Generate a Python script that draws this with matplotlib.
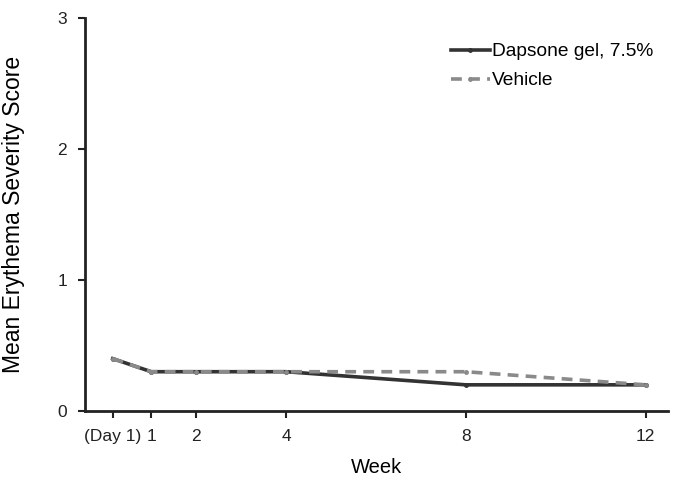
import matplotlib
matplotlib.use('Agg')
import matplotlib.pyplot as plt

plt.rcParams['font.family'] = ['Liberation Sans', 'DejaVu Sans']

weeks = [1 / 7, 1, 2, 4, 8, 12]
tick_labels = ['(Day 1)', '1', '2', '4', '8', '12']
dapsone = [0.4, 0.3, 0.3, 0.3, 0.2, 0.2]
vehicle = [0.4, 0.3, 0.3, 0.3, 0.3, 0.2]

fig = plt.figure(figsize=(6.98, 4.83), dpi=100)
ax = fig.add_axes([0.122, 0.149, 0.835, 0.814])

ax.plot(weeks, dapsone, color='#333333', lw=2.6, marker='o', ms=2.5,
        label='Dapsone gel, 7.5%')
ax.plot(weeks, vehicle, color='#8a8a8a', lw=2.6, ls=(0, (3, 2)), marker='o',
        ms=2.5, label='Vehicle')

ax.set_xlim(-0.47, 12.5)
ax.set_ylim(0, 3)
ax.set_xticks(weeks)
ax.set_xticklabels(tick_labels)
ax.set_yticks([0, 1, 2, 3])
ax.tick_params(labelsize=12.5, width=1.5, length=5, colors='#222222', pad=8)
ax.spines['top'].set_visible(False)
ax.spines['right'].set_visible(False)
for s in ('left', 'bottom'):
    ax.spines[s].set_linewidth(2)
    ax.spines[s].set_color('#222222')

ax.set_xlabel('Week', fontsize=14.5, labelpad=10)
ax.set_ylabel('Mean Erythema Severity Score', fontsize=16.5, labelpad=23)

ax.legend(loc='upper right', bbox_to_anchor=(1.005, 0.98), frameon=False,
          fontsize=13.8, handlelength=2.0, handletextpad=0.15, labelspacing=0.6)

plt.savefig('out.png', format='png')
plt.close()
